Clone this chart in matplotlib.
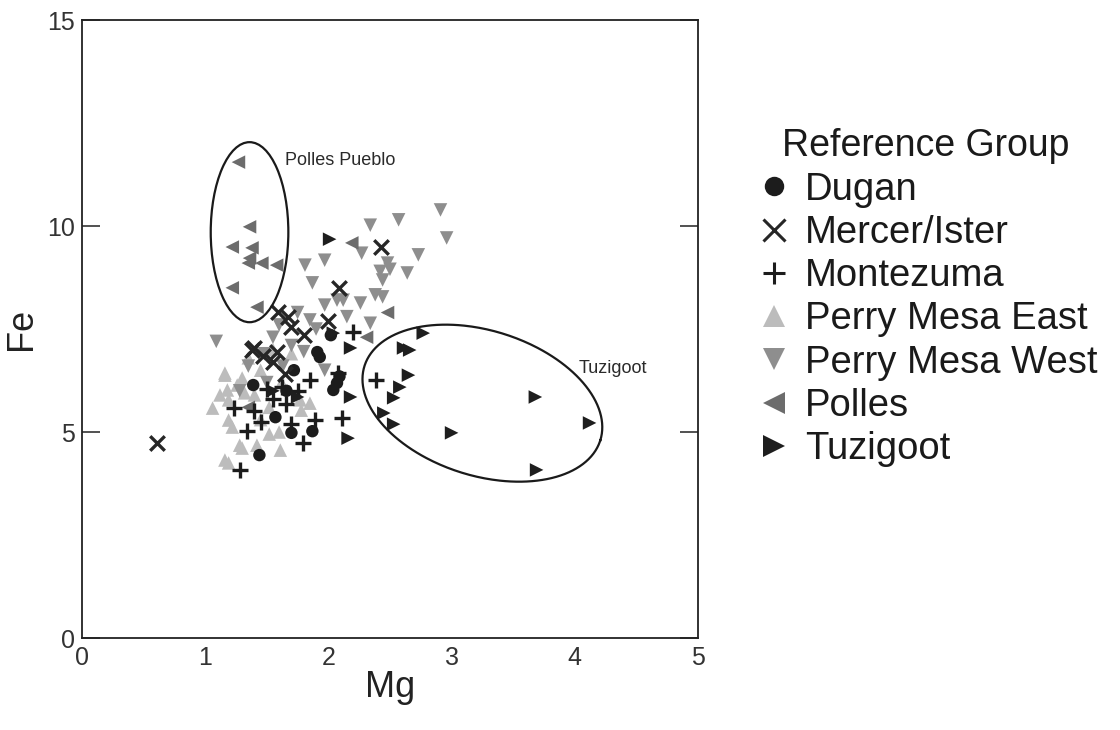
import numpy as np
import matplotlib
matplotlib.use("Agg")
import matplotlib.pyplot as plt
from matplotlib.patches import Ellipse
from matplotlib.lines import Line2D

plt.rcParams['font.family'] = ['Liberation Sans', 'DejaVu Sans']

# ---- Mg / Fe compositions by reference group ----
dugan_mg = [1.44, 1.70, 1.87, 2.04, 2.07, 2.09, 1.91, 1.93, 1.39, 1.66, 1.57, 2.02, 1.72]
dugan_fe = [4.44, 4.98, 5.02, 6.02, 6.19, 6.35, 6.94, 6.82, 6.14, 6.00, 5.36, 7.35, 6.50]

mercer_mg = [0.61, 1.38, 1.47, 1.58, 1.59, 1.67, 1.70, 1.80, 2.09, 2.43, 1.40, 1.55, 2.00, 1.65]
mercer_fe = [4.73, 6.99, 6.85, 6.94, 7.91, 7.79, 7.55, 7.35, 8.50, 9.49, 7.05, 6.70, 7.70, 6.40]

montezuma_mg = [1.28, 1.34, 1.23, 1.66, 1.79, 1.89, 2.11, 2.20, 2.39, 1.85, 2.08, 1.45,
                1.55, 1.70, 1.50, 1.62, 1.40, 1.75]
montezuma_fe = [4.08, 5.02, 5.58, 5.68, 4.73, 5.29, 5.34, 7.43, 6.26, 6.26, 6.43, 5.25,
                5.80, 5.20, 6.05, 6.10, 5.50, 6.00]

pme_mg = [1.16, 1.06, 1.18, 1.22, 1.28, 1.19, 1.42, 1.61, 1.12, 1.26, 1.19, 1.30, 1.16,
          1.19, 1.32, 1.16, 1.30, 1.77, 1.78, 1.45, 1.52, 1.40, 1.62, 1.70, 1.55, 1.45,
          1.35, 1.60, 1.85, 1.52]
pme_fe = [6.38, 5.58, 6.02, 5.12, 4.68, 4.25, 4.68, 4.56, 5.90, 6.14, 5.29, 4.61, 4.32,
          5.78, 5.95, 6.43, 6.31, 5.78, 5.53, 6.50, 5.60, 5.90, 6.20, 6.90, 7.00, 5.30,
          6.80, 5.00, 5.70, 4.95]

pmw_mg = [2.91, 2.96, 2.57, 2.34, 2.73, 2.64, 2.27, 2.44, 2.38, 2.44, 2.26, 2.48, 2.50,
          2.42, 1.81, 1.97, 1.87, 2.07, 2.12, 1.97, 2.34, 1.97, 1.85, 1.09, 1.75, 1.60,
          1.55, 1.70, 1.48, 1.35, 1.80, 1.63, 1.90, 2.15, 1.28, 1.50]
pmw_fe = [10.39, 9.71, 10.15, 10.02, 9.30, 8.86, 9.34, 8.69, 8.33, 8.28, 8.13, 9.10, 8.95,
          8.90, 9.05, 9.17, 8.62, 8.20, 8.20, 8.08, 7.64, 6.50, 7.72, 7.20, 7.90, 7.60,
          7.30, 7.10, 6.90, 6.60, 6.95, 6.60, 7.50, 7.80, 6.00, 6.20]

polles_mg = [1.27, 1.36, 1.22, 1.38, 1.36, 1.35, 1.46, 1.58, 1.22, 1.42, 2.19, 2.48, 2.31, 1.35]
polles_fe = [11.55, 9.98, 9.49, 9.47, 9.22, 9.10, 9.10, 9.05, 8.50, 8.03, 9.59, 7.90, 7.30, 5.60]

tuzigoot_mg = [2.77, 2.61, 2.66, 2.65, 2.58, 2.53, 2.45, 2.53, 3.68, 4.12, 3.00, 3.69,
               2.16, 2.18, 2.18, 2.04, 2.01, 1.75, 1.55]
tuzigoot_fe = [7.40, 7.04, 6.99, 6.38, 6.09, 5.83, 5.46, 5.19, 5.85, 5.22, 4.98, 4.08,
               4.85, 5.85, 7.04, 7.40, 9.68, 5.85, 6.00]

groups = [
    ("Dugan", dugan_mg, dugan_fe, "o", "#1c1c1c", 80, None),
    ("Mercer/Ister", mercer_mg, mercer_fe, "x", "#262626", 110, 2.4),
    ("Montezuma", montezuma_mg, montezuma_fe, "+", "#1c1c1c", 140, 2.4),
    ("Perry Mesa East", pme_mg, pme_fe, "^", "#bcbcbc", 95, None),
    ("Perry Mesa West", pmw_mg, pmw_fe, "v", "#8e8e8e", 95, None),
    ("Polles", polles_mg, polles_fe, "<", "#6c6c6c", 95, None),
    ("Tuzigoot", tuzigoot_mg, tuzigoot_fe, ">", "#1e1e1e", 95, None),
]

fig = plt.figure(figsize=(11.2, 7.3), dpi=100)
ax = fig.add_axes([0.0732, 0.126, 0.5500, 0.8466])

draw_order = [3, 4, 5, 0, 1, 2, 6]
for i in draw_order:
    name, xs, ys, mk, col, size, lw = groups[i]
    kw = dict(marker=mk, s=size, zorder=3)
    if lw is None:
        kw.update(color=col, edgecolors="none")
    else:
        kw.update(color=col, linewidths=lw)
    ax.scatter(xs, ys, **kw)

# Polles Pueblo ellipse (axis-aligned)
polles_center = (1.36, 9.85)
ax.add_patch(Ellipse(polles_center, width=0.63, height=4.37, fill=False,
                     edgecolor="#1a1a1a", linewidth=1.6, zorder=4))
ax.text(1.65, 11.6, "Polles Pueblo", fontsize=13, color="#2a2a2a", va="center")

# Tuzigoot ellipse given by its centre and two conjugate semi-axis vectors
tuz_center = np.array([3.25, 5.70])
tuz_u = np.array([0.957, -0.903])
tuz_v = np.array([0.177, 1.678])
t = np.linspace(0, 2 * np.pi, 400)
ell = tuz_center[:, None] + np.outer(tuz_u, np.cos(t)) + np.outer(tuz_v, np.sin(t))
ax.plot(ell[0], ell[1], color="#1a1a1a", linewidth=1.6, zorder=4)
ax.text(4.03, 6.55, "Tuzigoot", fontsize=13, color="#2a2a2a", va="center")

ax.set_xlim(0, 5)
ax.set_ylim(0, 15)
ax.set_xticks([0, 1, 2, 3, 4, 5])
ax.set_yticks([0, 5, 10, 15])
ax.tick_params(direction="in", length=13, width=1.2, labelsize=18,
               colors="#333333", top=False, right=True, pad=5)
ax.tick_params(axis="x", length=0, pad=6)
for sp in ax.spines.values():
    sp.set_linewidth(1.3)
    sp.set_color("#222222")
ax.set_xlabel("Mg", fontsize=26, color="#222222", labelpad=0)
ax.set_ylabel("Fe", fontsize=26, color="#222222", labelpad=6)

handles = []
for name, xs, ys, mk, col, size, lw in groups:
    ms = 16 if mk in "^v<>" else (14 if mk == "o" else 16)
    h = Line2D([], [], linestyle="none", marker=mk, markersize=ms,
               color=col, markeredgewidth=(2.2 if lw else 0), label=name)
    handles.append(h)
leg = fig.legend(handles=handles, title="Reference Group", loc="upper left",
                 bbox_to_anchor=(0.660, 0.845), frameon=False, fontsize=27.5,
                 title_fontsize=27, labelspacing=0.19, handletextpad=0.33,
                 handlelength=1.0, borderaxespad=0)
for txt in leg.get_texts():
    txt.set_color("#1a1a1a")
leg.get_title().set_color("#1a1a1a")

fig.savefig("out.png", dpi=100)
